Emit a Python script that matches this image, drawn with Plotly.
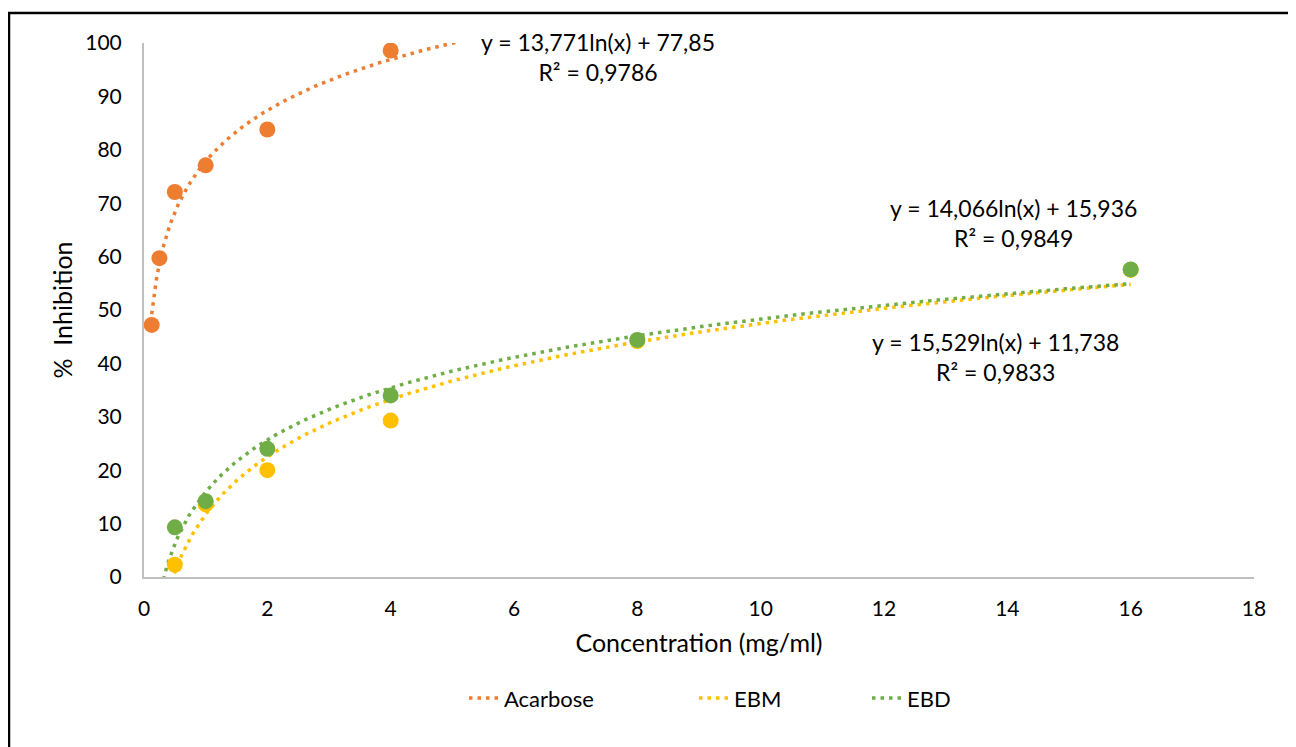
import numpy as np
import plotly.graph_objects as go

# ---- data ----
acarbose_x = [0.125, 0.25, 0.5, 1, 2, 4]
acarbose_y = [47.2, 59.7, 72.1, 77.1, 83.8, 98.6]
ebm_x = [0.5, 1, 2, 4, 8, 16]
ebm_y = [2.3, 13.6, 20.0, 29.3, 44.2, 57.5]
ebd_x = [0.5, 1, 2, 4, 8, 16]
ebd_y = [9.3, 14.2, 24.0, 34.0, 44.4, 57.6]

# displayed logarithmic trendline coefficients (a*ln(x)+b)
acarbose_fit = (13.771, 77.85)
ebm_fit = (15.529, 11.738)
ebd_fit = (14.066, 15.936)

acarbose_eq = "y = 13,771ln(x) + 77,85<br>R² = 0,9786"
ebm_eq = "y = 15,529ln(x) + 11,738<br>R² = 0,9833"
ebd_eq = "y = 14,066ln(x) + 15,936<br>R² = 0,9849"

C_ACA = "#ED7D31"
C_EBM = "#FFC000"
C_EBD = "#70AD47"
FONT = "Lato, 'Open Sans', sans-serif"
DOT = "3.5px,5px"

fig = go.Figure()

def trend(fit, x0, x1):
    xs = np.linspace(x0, x1, 400)
    return xs, fit[0] * np.log(xs) + fit[1]

tx, ty = trend(acarbose_fit, acarbose_x[0], 6.0)
fig.add_trace(go.Scatter(x=tx, y=ty, mode="lines", name="Acarbose", legend="legend",
                         line=dict(color=C_ACA, width=3.5, dash=DOT)))
tx, ty = trend(ebm_fit, 0.3, ebm_x[-1])
fig.add_trace(go.Scatter(x=tx, y=ty, mode="lines", name="EBM", legend="legend2",
                         line=dict(color=C_EBM, width=3.5, dash=DOT)))
tx, ty = trend(ebd_fit, 0.25, ebd_x[-1])
fig.add_trace(go.Scatter(x=tx, y=ty, mode="lines", name="EBD", legend="legend3",
                         line=dict(color=C_EBD, width=3.5, dash=DOT)))

fig.add_trace(go.Scatter(x=acarbose_x, y=acarbose_y, mode="markers", showlegend=False,
                         marker=dict(color=C_ACA, size=16)))
fig.add_trace(go.Scatter(x=ebm_x, y=ebm_y, mode="markers", showlegend=False,
                         marker=dict(color=C_EBM, size=16)))
fig.add_trace(go.Scatter(x=ebd_x, y=ebd_y, mode="markers", showlegend=False,
                         marker=dict(color=C_EBD, size=16)))

ann_font = dict(family=FONT, size=23, color="#000000")
fig.add_annotation(x=7.36, y=97.3, text=acarbose_eq, showarrow=False, font=ann_font, align="center")
fig.add_annotation(x=14.1, y=66.2, text=ebd_eq, showarrow=False, font=ann_font, align="center")
fig.add_annotation(x=13.8, y=41.2, text=ebm_eq, showarrow=False, font=ann_font, align="center")

# outer border (plot area spans page px x 144..1254, y 43..577)
fig.add_shape(type="rect", xref="paper", yref="paper",
              x0=(9 - 144) / 1110, x1=(1320 - 144) / 1110,
              y0=(577 - 780) / 534, y1=(577 - 13) / 534,
              line=dict(color="#000000", width=2.5), fillcolor="rgba(0,0,0,0)", layer="below")

def leg(px_left):
    return dict(orientation="h", x=(px_left - 144) / 1110, y=-0.227, xanchor="left",
                yanchor="middle", font=dict(family=FONT, size=22), bgcolor="rgba(0,0,0,0)")

fig.update_layout(
    width=1288, height=739,
    margin=dict(l=136, r=42, t=35, b=170),
    paper_bgcolor="white", plot_bgcolor="white",
    font=dict(family=FONT, size=21, color="#000000"),
    showlegend=True,
    legend=leg(464), legend2=leg(694), legend3=leg(867),
    xaxis=dict(range=[0, 18], dtick=2, showgrid=False, zeroline=False,
               showline=True, linecolor="#BFBFBF", linewidth=2, ticks="",
               tickfont=dict(family=FONT, size=21), ticklabelstandoff=12,
               title=dict(text="Concentration (mg/ml)", font=dict(family=FONT, size=25), standoff=15)),
    yaxis=dict(range=[0, 100], dtick=10, showgrid=False, zeroline=False,
               showline=True, linecolor="#BFBFBF", linewidth=2, ticks="",
               tickfont=dict(family=FONT, size=21), ticklabelstandoff=16,
               title=dict(text="%  Inhibition", font=dict(family=FONT, size=25), standoff=6)),
)

fig.write_html("out.html")
